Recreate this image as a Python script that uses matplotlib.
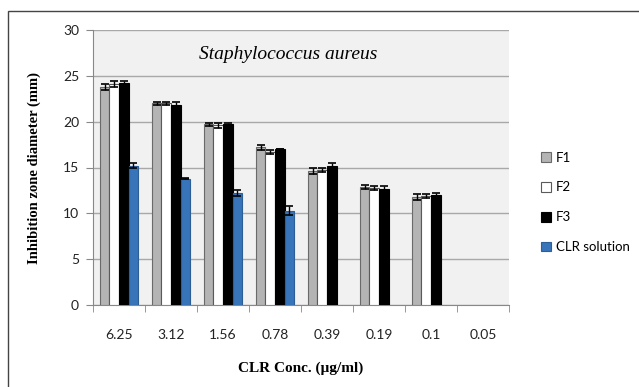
import matplotlib
matplotlib.use("Agg")
import matplotlib.pyplot as plt
from matplotlib.patches import Rectangle
import numpy as np

plt.rcParams["font.family"] = ["Lato", "DejaVu Sans"]

# Data
concs = ["6.25", "3.12", "1.56", "0.78", "0.39", "0.19", "0.1", "0.05"]
f1 = [23.8, 22.0, 19.7, 17.2, 14.6, 12.9, 11.8, None]
f2 = [24.1, 22.0, 19.6, 16.7, 14.7, 12.8, 11.9, None]
f3 = [24.2, 21.8, 19.7, 17.0, 15.2, 12.7, 12.0, None]
clr = [15.2, 13.8, 12.2, 10.3, None, None, None, None]
f1_err = [0.3, 0.2, 0.2, 0.3, 0.3, 0.2, 0.3, None]
f2_err = [0.3, 0.2, 0.3, 0.2, 0.2, 0.2, 0.2, None]
f3_err = [0.2, 0.3, 0.2, 0.0, 0.3, 0.3, 0.2, None]
clr_err = [0.3, 0.1, 0.3, 0.5, None, None, None, None]

series = [
    ("F1", f1, f1_err, "#b4b4b4", "#6a6a6a"),
    ("F2", f2, f2_err, "#ffffff", "#5a5a5a"),
    ("F3", f3, f3_err, "#000000", "#000000"),
    ("CLR solution", clr, clr_err, "#3874b9", "#2c5f98"),
]

fig = plt.figure(figsize=(6.39, 3.87), dpi=100)
ax = fig.add_axes([93 / 639, 1 - 305 / 387, 416 / 639, 275 / 387])
ax.set_facecolor("#f0f1f0")

w = 0.183
x = np.arange(len(concs))
for i, (name, vals, errs, fc, ec) in enumerate(series):
    idx = [k for k, v in enumerate(vals) if v is not None]
    xs = x[idx] + (i - 1.5) * w
    hs = [vals[k] for k in idx]
    es = [errs[k] for k in idx]
    ax.bar(xs, hs, width=w, color=fc, edgecolor=ec, linewidth=0.8, label=name, zorder=3)
    ax.errorbar(xs, hs, yerr=es, fmt="none", ecolor="black", elinewidth=1,
                capsize=3, capthick=1.2, zorder=4)

ax.set_xlim(-0.5, len(concs) - 0.5)
ax.set_ylim(0, 30)
ax.set_yticks(range(0, 31, 5))
ax.yaxis.grid(True, color="#a8a8a8", linewidth=1)
ax.set_axisbelow(True)

ax.set_xticks(x)
ax.set_xticklabels(concs)
ax.set_xticks(np.arange(-0.5, len(concs)), minor=True)
ax.tick_params(axis="both", labelsize=10, labelcolor="#222222")
ax.tick_params(axis="x", which="major", length=0, pad=17)
ax.tick_params(axis="x", which="minor", length=5, color="#888888", direction="out")
ax.tick_params(axis="y", length=5, color="#888888", pad=5)

for s in ["top", "right"]:
    ax.spines[s].set_visible(False)
ax.spines["left"].set_color("#888888")
ax.spines["bottom"].set_color("#888888")

ax.set_ylabel("Inhibition zone diameter (mm)", fontfamily="Liberation Serif",
              fontweight="bold", fontsize=10.5, labelpad=16)
ax.set_xlabel("CLR Conc. (\u00b5g/ml)", fontfamily="Liberation Serif",
              fontweight="bold", fontsize=11, labelpad=15)
ax.text(0.47, 0.91, "Staphylococcus aureus", transform=ax.transAxes, ha="center",
        va="center", fontfamily="Liberation Serif", fontstyle="italic", fontsize=14)

leg = ax.legend(loc="center left", bbox_to_anchor=(0.828, 0.477),
                bbox_transform=fig.transFigure, frameon=False,
                prop={"size": 9.5}, handlelength=0.75,
                handleheight=0.75, handletextpad=0.4, labelspacing=1.35)

fig.add_artist(Rectangle((8 / 639, -0.1), 1.2, 1.1 - 11 / 387, transform=fig.transFigure,
                         fill=False, edgecolor="#444444", linewidth=1))

fig.savefig("out.png", dpi=100)
